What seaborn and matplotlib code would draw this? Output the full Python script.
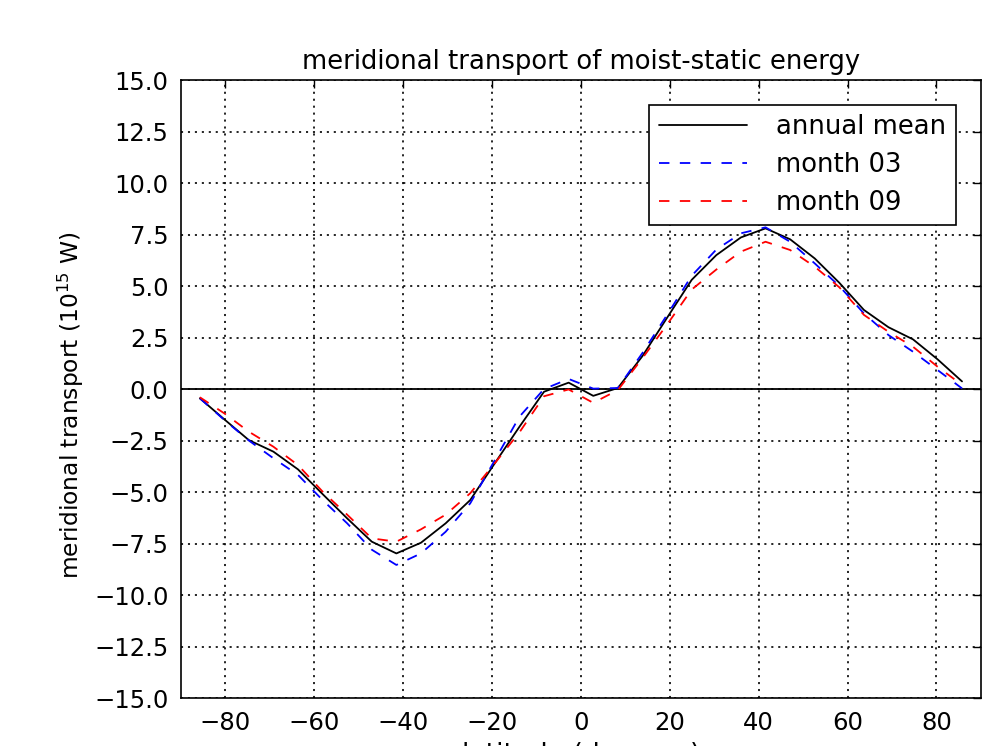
import matplotlib
matplotlib.use("Agg")
import matplotlib.pyplot as plt
import seaborn as sns
import pandas as pd

lat = [-85.76, -80.27, -74.74, -69.21, -63.68, -58.14, -52.61, -47.07, -41.54, -36.00,
       -30.46, -24.92, -19.38, -13.84, -8.31, -2.77, 2.77, 8.31, 13.84, 19.38,
       24.92, 30.46, 36.00, 41.54, 47.07, 52.61, 58.14, 63.68, 69.21, 74.74, 80.27, 85.76]

annual_mean = [-0.45, -1.47, -2.48, -3.04, -3.9, -5.1, -6.28, -7.41, -7.98, -7.46,
               -6.52, -5.39, -3.6, -1.83, -0.13, 0.31, -0.33, 0.05, 1.6, 3.46,
               5.3, 6.5, 7.36, 7.8, 7.27, 6.34, 5.16, 3.84, 3.0, 2.41, 1.44, 0.37]

month_03 = [-0.45, -1.5, -2.5, -3.36, -4.17, -5.39, -6.52, -7.8, -8.54, -7.98,
            -6.93, -5.55, -3.45, -1.34, 0.0, 0.49, 0.02, 0.05, 1.75, 3.6,
            5.5, 6.77, 7.56, 7.85, 7.15, 6.1, 5.0, 3.67, 2.62, 1.81, 0.92, 0.03]

month_09 = [-0.4, -1.18, -2.07, -2.8, -3.69, -4.98, -6.1, -7.25, -7.41, -6.81,
            -6.1, -5.06, -3.6, -2.1, -0.35, -0.02, -0.67, -0.05, 1.5, 3.13,
            4.83, 5.8, 6.67, 7.15, 6.75, 5.94, 4.94, 3.6, 2.78, 2.05, 1.08, 0.2]

series_names = ["annual mean", "month 03", "month 09"]
series_values = [annual_mean, month_03, month_09]
colors = ["black", "blue", "red"]
styles = ["-", (0, (7.5, 7.5)), (0, (7.5, 7.5))]

xticks = [-80, -60, -40, -20, 0, 20, 40, 60, 80]
yticks = [-15.0, -12.5, -10.0, -7.5, -5.0, -2.5, 0.0, 2.5, 5.0, 7.5, 10.0, 12.5, 15.0]

sns.set_style("white")
plt.rcParams["font.family"] = ["DejaVu Sans"]
plt.rcParams["lines.scale_dashes"] = False
plt.rcParams["text.color"] = "black"
plt.rcParams["axes.labelcolor"] = "black"
FS = 17.5
FS_BIG = 18.6

fig = plt.figure(figsize=(9.85, 7.46), dpi=100, facecolor="white")
ax = fig.add_axes([0.1838, 0.0643, 0.812, 0.8284])

ax.axhline(0, color="black", lw=1.3, zorder=1)
for name, vals, c, ls in zip(series_names, series_values, colors, styles):
    df = pd.DataFrame({"lat": lat, "val": vals})
    sns.lineplot(data=df, x="lat", y="val", ax=ax, color=c, linestyle=ls,
                 lw=1.3, label=name, sort=False, estimator=None, zorder=3)

ax.set_xlim(-90, 90)
ax.set_ylim(-15, 15)
ax.set_xticks(xticks)
ax.set_yticks(yticks)
ax.set_yticklabels([f"{v:.1f}".replace("-", "\u2212") for v in yticks])
ax.set_xticklabels([str(v).replace("-", "\u2212") for v in xticks])
ax.grid(True, color="black", linestyle=(0, (1.5, 3.5)), linewidth=1.2)
ax.tick_params(direction="in", length=6, width=1, top=True, right=True,
               labelsize=FS, pad=9, colors="black")
for s in ax.spines.values():
    s.set_visible(True)
    s.set_color("black")
    s.set_linewidth(1.2)

ax.set_title("meridional transport of moist-static energy", fontsize=FS_BIG,
             pad=8, color="black")
ax.set_ylabel(r"meridional transport ($10^{15}$ W)", fontsize=16.8, color="black")
ax.yaxis.set_label_coords(-0.119, 0.474)
ax.set_xlabel("latitude (degrees)", fontsize=19.2, labelpad=5.5, color="black")

leg = ax.legend(loc="upper right", fontsize=FS_BIG, handlelength=3.4, handletextpad=1.15,
                labelspacing=0.45, borderpad=0.38, borderaxespad=0.95,
                frameon=True, fancybox=False, framealpha=1)
leg.get_frame().set_edgecolor("black")
leg.get_frame().set_linewidth(1.2)

fig.savefig("out.png", dpi=100, facecolor="white")
